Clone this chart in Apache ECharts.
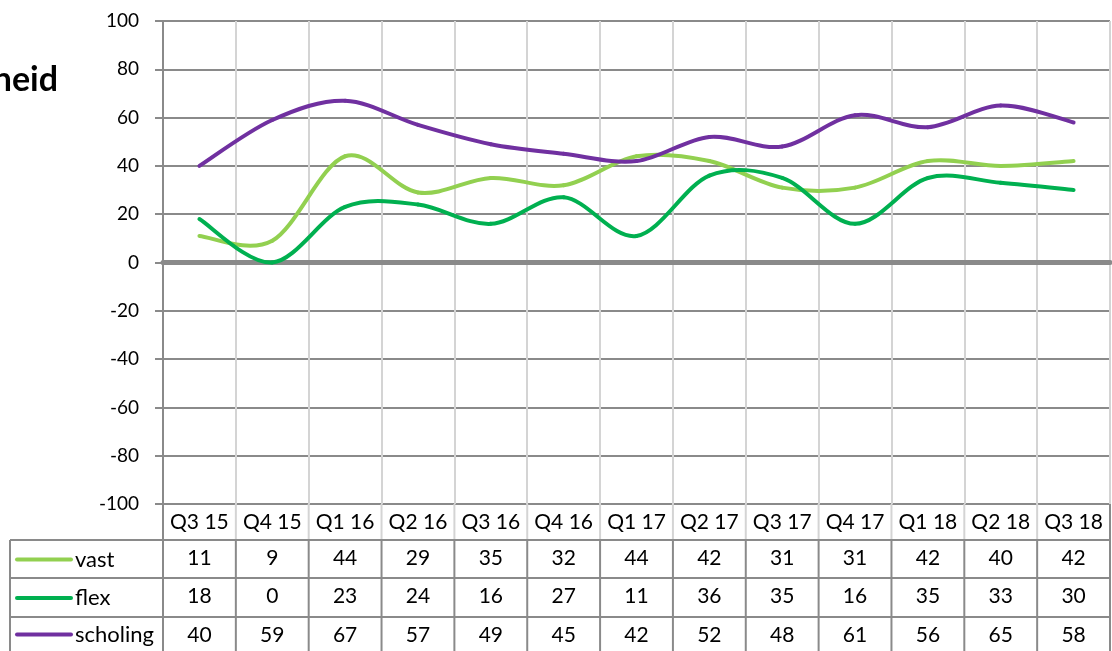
<!DOCTYPE html>
<html>
<head>
<meta charset="utf-8">
<script src="https://cdn.jsdelivr.net/npm/echarts@6/dist/echarts.min.js"></script>
<style>
html,body{margin:0;padding:0;background:#fff;}
#main{width:1112px;height:651px;}
</style>
</head>
<body>
<div id="main"></div>
<script>
// ---- data ----
const categories = ['Q3 15','Q4 15','Q1 16','Q2 16','Q3 16','Q4 16','Q1 17','Q2 17','Q3 17','Q4 17','Q1 18','Q2 18','Q3 18'];
const vast     = [11, 9, 44, 29, 35, 32, 44, 42, 31, 31, 42, 40, 42];
const flex     = [18, 0, 23, 24, 16, 27, 11, 36, 35, 16, 35, 33, 30];
const scholing = [40, 59, 67, 57, 49, 45, 42, 52, 48, 61, 56, 65, 58];
const seriesNames = ['vast', 'flex', 'scholing'];
const yTicks = [-100, -80, -60, -40, -20, 0, 20, 40, 60, 80, 100];
const titleText = 'heid';

// ---- styling / layout ----
const colors = ['#92D050', '#00B050', '#7030A0'];
const FONT = 'Lato, "Open Sans", sans-serif';
const GL = 163, GR = 1110, GT = 21, GB = 504;
const rowY = [504, 540, 578, 617, 660];
const darkLine = '#8a8a8a', lightLine = '#d4d4d4';

const chart = echarts.init(document.getElementById('main'));
const seriesData = [vast, flex, scholing];

function tableAxis(offset, values, size) {
  return {
    type: 'category', gridIndex: 0, position: 'bottom', offset: offset,
    data: categories, boundaryGap: true,
    axisLine: {show: false}, axisTick: {show: false}, splitLine: {show: false},
    axisLabel: {
      show: true, margin: 8, fontSize: size, color: '#000', fontFamily: FONT,
      interval: 0,
      formatter: function (v, i) { return values ? String(values[i]) : v; }
    }
  };
}

// graphic: table lines, legend keys, title
const graphic = [];
const colW = (GR - GL) / categories.length;
[540, 578, 617].forEach(y => {
  graphic.push({type: 'line', shape: {x1: 10, y1: y, x2: GR, y2: y}, style: {stroke: darkLine, lineWidth: 2}, z: 10});
});
graphic.push({type: 'line', shape: {x1: 10, y1: 540, x2: 10, y2: 660}, style: {stroke: darkLine, lineWidth: 2}, z: 10});
graphic.push({type: 'line', shape: {x1: GL, y1: GB, x2: GL, y2: 660}, style: {stroke: darkLine, lineWidth: 2}, z: 10});
graphic.push({type: 'line', shape: {x1: GR, y1: GB, x2: GR, y2: 660}, style: {stroke: darkLine, lineWidth: 2}, z: 10});
for (let i = 1; i < categories.length; i++) {
  const x = GL + i * colW;
  graphic.push({type: 'line', shape: {x1: x, y1: GB, x2: x, y2: 540}, style: {stroke: lightLine, lineWidth: 2}, z: 9});
  graphic.push({type: 'line', shape: {x1: x, y1: 540, x2: x, y2: 660}, style: {stroke: darkLine, lineWidth: 2}, z: 10});
}
seriesNames.forEach((n, k) => {
  const cy = (rowY[k + 1] + Math.min(rowY[k + 2], 651)) / 2 + 0.5;
  graphic.push({type: 'line', shape: {x1: 17, y1: cy, x2: 71, y2: cy}, style: {stroke: colors[k], lineWidth: 4, lineCap: 'round'}, z: 11});
  graphic.push({type: 'text', x: 75, y: cy, style: {text: n, fontSize: 22, fontFamily: FONT, fill: '#000', align: 'left', verticalAlign: 'middle'}, z: 11});
});
graphic.push({type: 'text', x: 58, y: 80, style: {text: titleText, fontSize: 34, fontWeight: 'bold', fontFamily: FONT, fill: '#000', align: 'right', verticalAlign: 'middle'}, z: 11});

// Excel-like smoothed line (Catmull-Rom Bezier), one segment per data item
function makeRenderItem(values, color) {
  return function (params, api) {
    const i = params.dataIndex;
    const n = values.length;
    if (i >= n - 1) return null;
    const P = j => api.coord([Math.max(0, Math.min(n - 1, j)), values[Math.max(0, Math.min(n - 1, j))]]);
    const p0 = P(i - 1), p1 = P(i), p2 = P(i + 1), p3 = P(i + 2);
    const t = 1 / 6;
    return {
      type: 'bezierCurve',
      shape: {
        x1: p1[0], y1: p1[1], x2: p2[0], y2: p2[1],
        cpx1: p1[0] + (p2[0] - p0[0]) * t, cpy1: p1[1] + (p2[1] - p0[1]) * t,
        cpx2: p2[0] - (p3[0] - p1[0]) * t, cpy2: p2[1] - (p3[1] - p1[1]) * t
      },
      style: {stroke: color, lineWidth: 4, fill: null, lineCap: 'round'}
    };
  };
}

const option = {
  animation: false,
  backgroundColor: '#fff',
  grid: {left: GL, right: 1112 - GR, top: GT, bottom: 651 - GB, containLabel: false},
  xAxis: [
    {
      type: 'category', data: categories, boundaryGap: true,
      axisLine: {show: true, onZero: true, lineStyle: {color: darkLine, width: 5}},
      axisTick: {show: false}, axisLabel: {show: false},
      splitLine: {show: true, interval: 0, lineStyle: {color: lightLine, width: 2}}
    },
    tableAxis(0, null, 21),
    tableAxis(36, vast, 21),
    tableAxis(74, flex, 21),
    tableAxis(113, scholing, 21)
  ],
  yAxis: {
    type: 'value', min: yTicks[0], max: yTicks[yTicks.length - 1], interval: 20,
    axisLine: {show: true, lineStyle: {color: darkLine, width: 2}},
    axisTick: {show: true, length: 8, lineStyle: {color: darkLine, width: 2}},
    axisLabel: {margin: 24, fontSize: 19, color: '#000', fontFamily: FONT},
    splitLine: {show: true, lineStyle: {color: darkLine, width: 2}}
  },
  series: seriesNames.map((n, k) => ({
    name: n, type: 'custom', xAxisIndex: 0, yAxisIndex: 0,
    data: seriesData[k].map((v, i) => [i, v]),
    encode: {x: 0, y: 1},
    renderItem: makeRenderItem(seriesData[k], colors[k]),
    clip: false, z: 5
  })),
  graphic: graphic
};
chart.setOption(option);
</script>
</body>
</html>
